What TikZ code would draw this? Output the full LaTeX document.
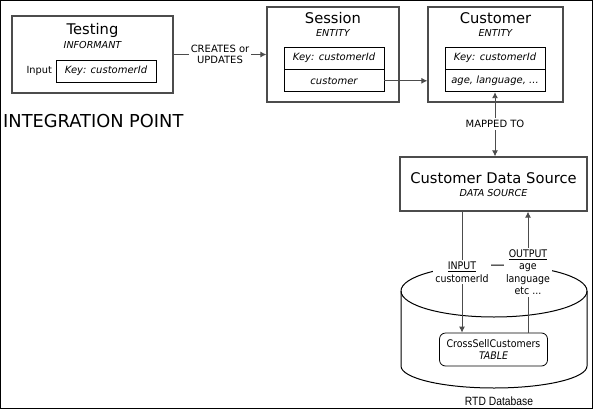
\documentclass[tikz,border=0pt]{standalone}
\usepackage{fontspec}
\setmainfont{DejaVu Sans}
\newfontfamily\condfont{DejaVu Sans Condensed}
\newfontfamily\rtdfont[FakeStretch=0.86]{Liberation Sans}
\usetikzlibrary{arrows.meta}

\tikzset{
  outerbox/.style={draw=black!70, line width=1.3pt, inner sep=0pt},
  keybox/.style={draw, line width=0.8pt, minimum width=100pt, minimum height=22pt,
    inner sep=0pt, font=\fontsize{10}{12}\selectfont\itshape},
  title/.style={anchor=base, inner sep=0pt, font=\fontsize{14.7}{17}\selectfont},
  kind/.style={anchor=base, inner sep=0pt, font=\fontsize{9.6}{11}\selectfont\itshape},
  link/.style={draw=black!70, line width=0.9pt},
  lbl/.style={fill=white, inner sep=2pt, align=center, font=\fontsize{10}{11}\selectfont},
  iolbl/.style={fill=white, inner sep=2pt, align=center, font=\fontsize{10.5}{12.4}\condfont},
}

\begin{document}
\begin{tikzpicture}[x=1pt, y=-1pt, >={Latex[length=6pt,width=6pt]}]
  \useasboundingbox (0,0) rectangle (593,409);
  \draw[line width=1pt] (0.5,0.5) rectangle (592.5,408.5);

  % Informant
  \node[outerbox, minimum width=161pt, minimum height=77pt] (testing) at (92.5,54.5) {};
  \node[title] (testingtitle) at (92.5,35) {Testing};
  \node[kind] (testingkind) at (92.5,49) {INFORMANT};
  \node[keybox] (testingkey) at (106,71) {Key: customerId};
  \node[anchor=east, inner sep=3.5pt, font=\fontsize{9.8}{11}\selectfont] (testinginput) at (testingkey.west) {Input};

  % Entities
  \node[outerbox, minimum width=132pt, minimum height=95pt] (session) at (333,54.5) {};
  \node[title] (sessiontitle) at (333,24) {Session};
  \node[kind] (sessionkind) at (333,37) {ENTITY};
  \node[keybox] (sessionkey) at (334,58) {Key: customerId};
  \node[keybox, anchor=north] (sessionval) at (sessionkey.south) {customer};

  \node[outerbox, minimum width=135pt, minimum height=95pt] (customer) at (495.5,54.5) {};
  \node[title] (customertitle) at (495.5,24) {Customer};
  \node[kind] (customerkind) at (495.5,37) {ENTITY};
  \node[keybox] (customerkey) at (495,58) {Key: customerId};
  \node[keybox, anchor=north] (customerval) at (customerkey.south) {age, language, ...};

  \node[anchor=base west, inner sep=0pt, font=\fontsize{17.8}{20}\selectfont] (integration) at (3,127) {INTEGRATION POINT};

  % Data source
  \node[outerbox, minimum width=187pt, minimum height=54pt] (datasource) at (493.5,184) {};
  \node[title] (datasourcetitle) at (493.5,183) {Customer Data Source};
  \node[kind] (datasourcekind) at (493.5,196) {DATA SOURCE};

  % Database cylinder
  \draw[line width=1pt] (494,291) ellipse [x radius=93pt, y radius=26pt];
  \draw[line width=1pt] (401,291) -- (401,366)
    arc [start angle=180, end angle=360, x radius=93pt, y radius=22pt] -- (587,291);
  \node[anchor=base, inner sep=0pt, font=\fontsize{12}{14}\rtdfont] (rtd) at (499,405) {RTD Database};

  \node[draw, line width=0.8pt, rounded corners=6pt, minimum width=108pt, minimum height=33pt,
    align=center, font=\fontsize{10.5}{11.5}\condfont] (table) at (493.5,349.5) {CrossSellCustomers\\\textit{TABLE}};

  % Connectors
  \coordinate (inx) at (462,0);
  \coordinate (outx) at (528,0);
  \draw[link, ->] (testing) -- node[lbl] (creates) {CREATES or\\UPDATES} (session);
  \draw[link, ->] (sessionval.east) -- (sessionval.east -| customer.west);
  \draw[link, <->] (customerval.south) -- node[lbl] (mapped) {MAPPED TO} (customerval.south |- datasource.north);
  \draw[link, ->] (datasource.south -| inx) -- node[iolbl] (input) {\underline{INPUT}\\customerId} (table.north -| inx);
  \draw[link, ->] (table.north -| outx) -- node[iolbl] (output) {\underline{OUTPUT}\\age\\language\\etc ...} (datasource.south -| outx);
\end{tikzpicture}
\end{document}
